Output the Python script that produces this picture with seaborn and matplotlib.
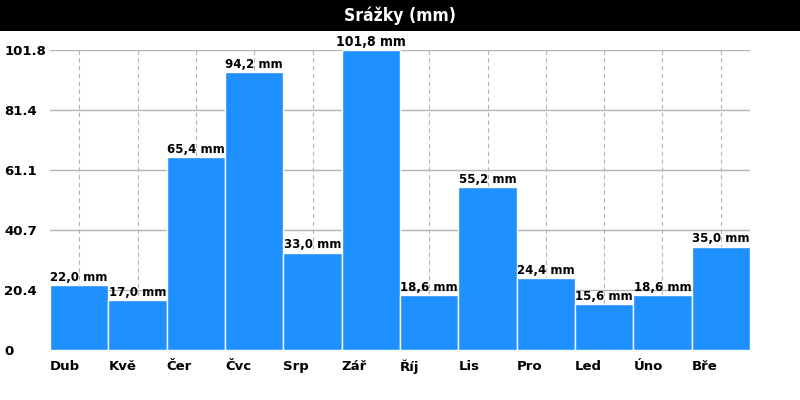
import matplotlib
matplotlib.use("Agg")
import matplotlib.pyplot as plt
import seaborn as sns
import numpy as np
import pandas as pd
from matplotlib.patches import Rectangle

# data
months = ["Dub", "Kvě", "Čer", "Čvc", "Srp", "Zář", "Říj", "Lis", "Pro", "Led", "Úno", "Bře"]
rain_mm = [22.0, 17.0, 65.4, 94.2, 33.0, 101.8, 18.6, 55.2, 24.4, 15.6, 18.6, 35.0]

df = pd.DataFrame({"mesic": months, "srazky": rain_mm})

sns.set_style("white")
plt.rcParams["font.family"] = ["DejaVu Sans"]
plt.rcParams["text.color"] = "black"
plt.rcParams["xtick.color"] = "black"
plt.rcParams["ytick.color"] = "black"

fig = plt.figure(figsize=(8, 4), dpi=100)
ax = fig.add_axes([50 / 800, 50 / 400, 700 / 800, 300 / 400])

sns.barplot(data=df, x="mesic", y="srazky", color="#1E90FF", width=1.0,
            edgecolor="white", linewidth=1, saturation=1, ax=ax, zorder=3)

n = len(months)
ymax = max(rain_mm)
ax.set_xlim(-0.5, n - 0.5)
ax.set_ylim(0, ymax)

# y ticks: 5 equal steps up to the maximum
yt = np.linspace(0, ymax, 6)
ax.set_yticks(yt)
ax.set_yticklabels(["0"] + [f"{v:.1f}" for v in yt[1:]], fontsize=9.5, fontweight="bold",
                   ha="left", color="black")
ax.tick_params(axis="y", length=0, pad=33)

# major x ticks at bar centres (for dashed grid), labels on minor ticks at bar left edge
ax.set_xticks(np.arange(n))
ax.set_xticklabels([""] * n)
ax.set_xticks(np.arange(n) - 0.5, minor=True)
ax.set_xticklabels(months, minor=True, fontsize=9.5, fontweight="bold", ha="left", color="black")
ax.tick_params(axis="x", which="both", length=0)
ax.tick_params(axis="x", which="minor", pad=7)

ax.grid(axis="y", color="#b4b4b4", linewidth=1, linestyle="-", zorder=0)
ax.grid(axis="x", which="major", color="#b4b4b4", linewidth=0.8, linestyle=(0, (4, 3)), zorder=0)
ax.set_axisbelow(True)
for s in ax.spines.values():
    s.set_visible(False)
ax.set_xlabel("")
ax.set_ylabel("")

labels = [f"{v:.1f}".replace(".", ",") + " mm" for v in rain_mm]
texts = ax.bar_label(ax.containers[0], labels=labels, padding=1, fontsize=8.5,
                     fontweight="bold", color="black")
for t, v in zip(texts, rain_mm):
    if v == ymax:
        t.set_fontstretch("condensed")
        t.set_fontsize(10)
    t.set_clip_on(False)

# black title bar
fig.add_artist(Rectangle((0, 1 - 31 / 400), 1, 31 / 400, transform=fig.transFigure,
                         facecolor="black", edgecolor="none", zorder=0))
fig.text(0.5, 1 - 16 / 400, "Srážky (mm)", color="white", fontsize=12.5, fontweight="bold",
         fontstretch="condensed", ha="center", va="center")

fig.savefig("out.png", dpi=100)
